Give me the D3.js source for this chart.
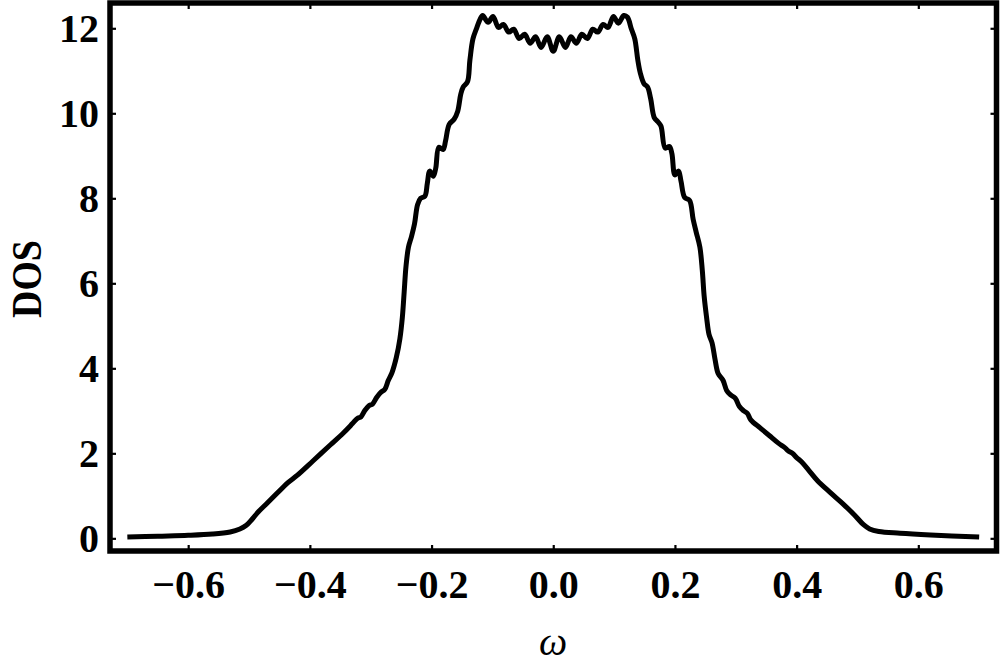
<!DOCTYPE html>
<html><head><meta charset="utf-8">
<script src="https://cdn.jsdelivr.net/npm/d3@7"></script>
<style>body{margin:0;background:#fff}svg{display:block}</style>
</head><body><svg id="c" width="1000" height="668"></svg>
<script>
// omega values (x) and DOS values (y)
const omega = [
 -0.700,-0.650,-0.600,-0.560,-0.531,-0.515,-0.505,-0.495,-0.485,-0.470,
 -0.454,-0.437,-0.421,-0.395,-0.367,-0.345,-0.330,-0.322,-0.316,-0.310,
 -0.303,-0.297,-0.290,-0.283,-0.277,-0.271,-0.265,-0.258,-0.252,-0.248,
 -0.245,-0.242,-0.238,-0.233,-0.228,-0.223,-0.218,-0.211,-0.207,-0.203,
 -0.197,-0.193,-0.188,-0.181,-0.177,-0.171,-0.163,-0.157,-0.152,-0.148,
 -0.141,-0.137,-0.132,-0.126,-0.120,-0.116,-0.107,-0.099,-0.090,-0.082,
 -0.073,-0.065,-0.056,-0.047,-0.038,-0.029,-0.020,-0.010,0.000,
  0.010,0.020,0.029,0.038,0.047,0.056,0.065,0.073,0.082,0.090,
  0.099,0.107,0.116,0.122,0.128,0.134,0.139,0.143,0.149,0.155,
  0.160,0.166,0.172,0.177,0.184,0.191,0.195,0.200,0.206,0.210,
  0.216,0.224,0.230,0.235,0.241,0.245,0.248,0.252,0.256,0.261,
  0.266,0.271,0.279,0.285,0.291,0.299,0.306,0.313,0.319,0.325,
  0.340,0.355,0.370,0.380,0.386,0.393,0.400,0.408,0.420,0.434,
  0.455,0.477,0.495,0.510,0.520,0.535,0.570,0.620,0.700
];
const dos = [
  0.03, 0.05, 0.07, 0.10, 0.15, 0.22, 0.30, 0.45, 0.62, 0.83,
  1.06, 1.30, 1.48, 1.82, 2.19, 2.48, 2.70, 2.82, 2.86, 3.00,
  3.12, 3.16, 3.32, 3.44, 3.50, 3.72, 3.90, 4.25, 4.70, 5.20,
  5.80, 6.40, 6.85, 7.10, 7.40, 7.85, 8.00, 8.05, 8.35, 8.64,
  8.52, 8.72, 9.20, 9.15, 9.35, 9.74, 9.86, 10.05, 10.45, 10.62,
  10.74, 11.25, 11.75, 12.00, 12.22, 12.30, 12.14, 12.28, 12.02, 12.09,
  11.91, 11.98, 11.76, 11.86, 11.65, 11.80, 11.55, 11.80, 11.46,
  11.80, 11.55, 11.80, 11.65, 11.86, 11.76, 11.98, 11.91, 12.09, 12.02,
  12.28, 12.12, 12.30, 12.26, 12.00, 11.75, 11.25, 10.95, 10.70, 10.62,
  10.35, 9.90, 9.80, 9.70, 9.18, 9.22, 9.05, 8.55, 8.64, 8.40,
  8.02, 7.95, 7.50, 7.20, 6.85, 6.30, 5.70, 5.20, 4.80, 4.60,
  4.20, 3.88, 3.72, 3.48, 3.38, 3.30, 3.10, 3.00, 2.94, 2.78,
  2.60, 2.42, 2.24, 2.14, 2.06, 2.00, 1.90, 1.80, 1.60, 1.36,
  1.08, 0.80, 0.55, 0.32, 0.22, 0.16, 0.12, 0.08, 0.03
];
const xTicks = [-0.6,-0.4,-0.2,0,0.2,0.4,0.6];
const xTickLabels = ["\u22120.6","\u22120.4","\u22120.2","0.0","0.2","0.4","0.6"];
const yTicks = [0,2,4,6,8,10,12];
const yTickLabels = ["0","2","4","6","8","10","12"];

const svg = d3.select("#c");
const L = 110, R = 996.5, T = 3, B = 551;
const x = d3.scaleLinear().domain([-0.7285, 0.7285]).range([L, R]);
const y = d3.scaleLinear().domain([-0.298, 12.595]).range([B, T]);
const FONT = "'Liberation Serif','Times New Roman',serif";

function styleAxis(g){
  g.select(".domain").remove();
  g.selectAll(".tick line").attr("stroke","#000").attr("stroke-width",2.2);
  g.selectAll("text").attr("fill","#000").style("font-family",FONT)
    .style("font-weight","bold").style("font-size","40px");
}

svg.append("g").attr("transform",`translate(0,${B})`)
  .call(d3.axisBottom(x).tickValues(xTicks).tickSize(-6).tickSizeOuter(0)
    .tickFormat((d,i)=>xTickLabels[i]))
  .call(styleAxis)
  .call(g=>g.selectAll("text").attr("y",47).attr("dy",null));

svg.append("g").attr("transform",`translate(0,${T})`)
  .call(d3.axisTop(x).tickValues(xTicks).tickSize(-6).tickSizeOuter(0).tickFormat(""))
  .call(styleAxis);

svg.append("g").attr("transform",`translate(${L},0)`)
  .call(d3.axisLeft(y).tickValues(yTicks).tickSize(-6).tickSizeOuter(0).tickPadding(11)
    .tickFormat((d,i)=>yTickLabels[i]))
  .call(styleAxis)
  .call(g=>g.selectAll("text").attr("dy","0.34em"));

svg.append("g").attr("transform",`translate(${R},0)`)
  .call(d3.axisRight(y).tickValues(yTicks).tickSize(-6).tickSizeOuter(0).tickFormat(""))
  .call(styleAxis);

// frame
svg.append("rect").attr("x",L).attr("y",T).attr("width",R-L).attr("height",B-T)
  .attr("fill","none").attr("stroke","#000").attr("stroke-width",5.5);

// curve
const pts = omega.map((w,i)=>[w,dos[i]]);
svg.append("path").datum(pts)
  .attr("fill","none").attr("stroke","#000").attr("stroke-width",5)
  .attr("stroke-linejoin","round")
  .attr("d", d3.line().x(d=>x(d[0])).y(d=>y(d[1])).curve(d3.curveCatmullRom.alpha(0.5)));

// axis titles
svg.append("text").attr("transform","translate(41,279) rotate(-90) scale(0.88,1)")
  .attr("text-anchor","middle").style("font-family",FONT).style("font-weight","bold")
  .style("font-size","43px").text("DOS");
svg.append("text").attr("x",553).attr("y",655).attr("text-anchor","middle")
  .style("font-family",FONT).style("font-style","italic").style("font-size","40px").text("ω");
</script></body></html>
